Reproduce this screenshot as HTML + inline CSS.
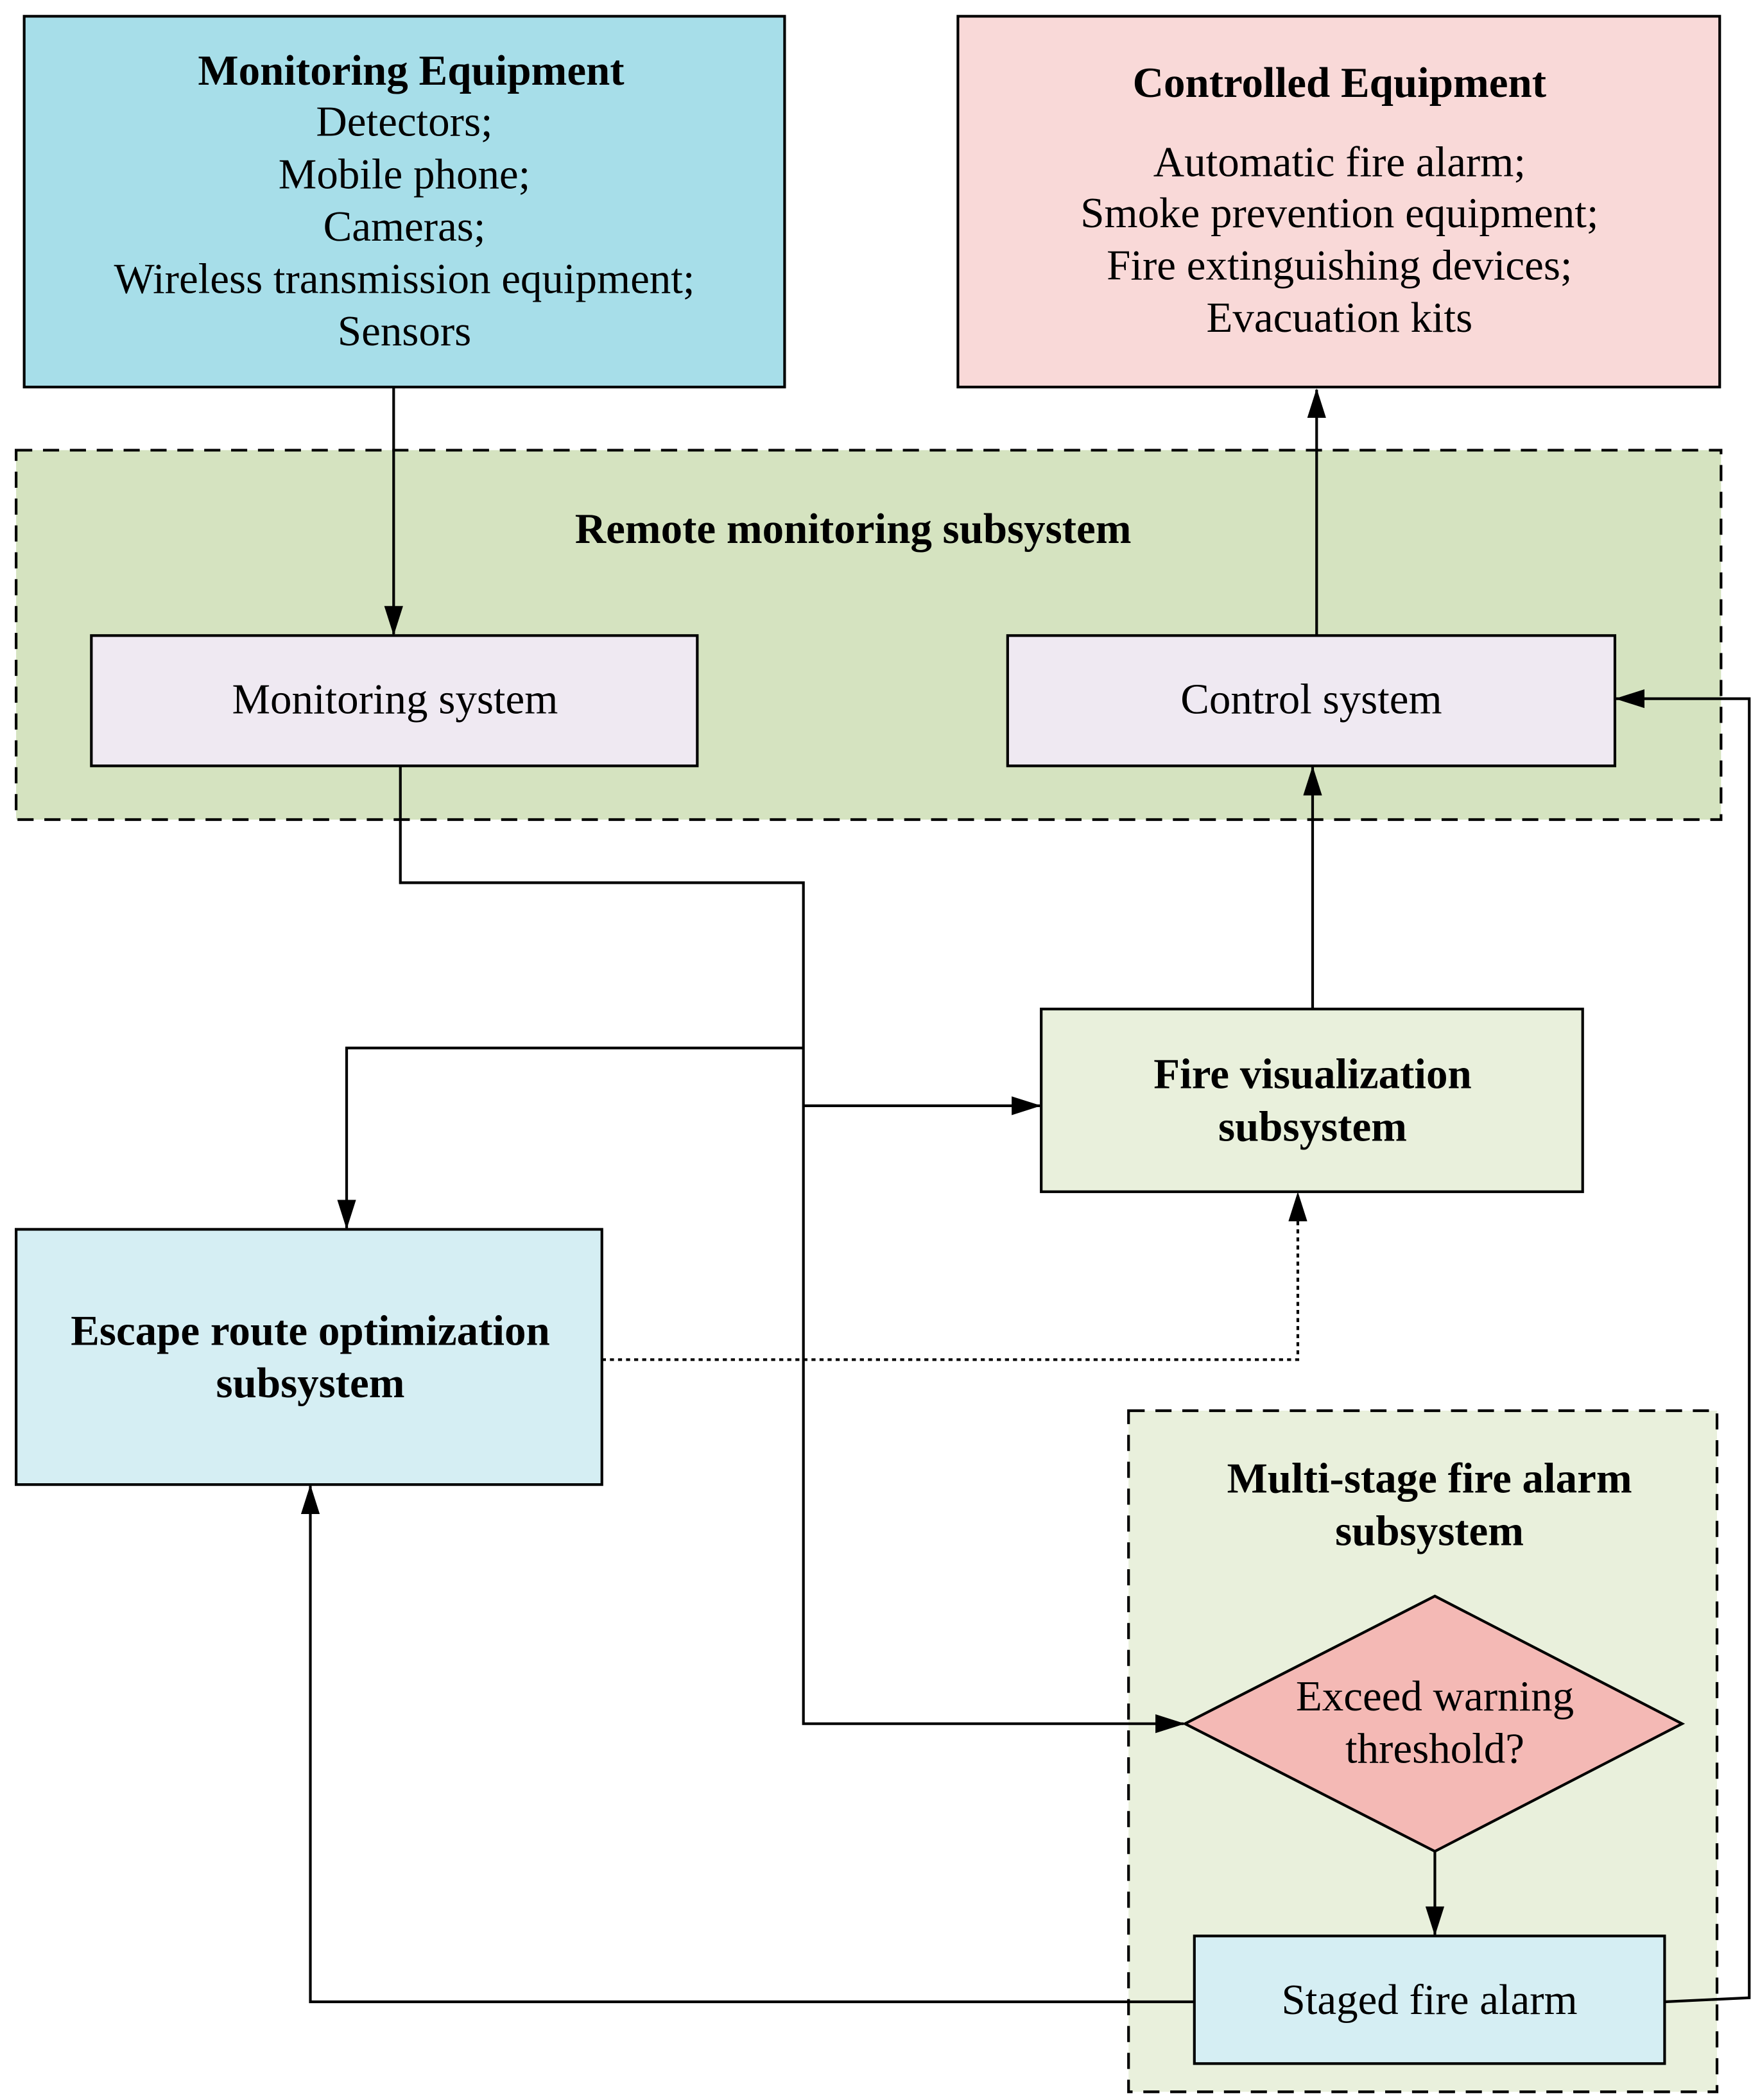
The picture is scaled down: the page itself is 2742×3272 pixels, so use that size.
<!DOCTYPE html>
<html><head><meta charset="utf-8"><style>
html,body{margin:0;padding:0;background:#fff}
svg{display:block}
text{font-family:"Liberation Serif",serif;font-size:32px;fill:#000;text-anchor:middle}
.b{font-weight:bold}
</style></head><body>
<svg width="2742" height="3272" viewBox="0 0 1310 1563" xmlns="http://www.w3.org/2000/svg">
<defs>
<marker id="a" markerWidth="22" markerHeight="14" refX="21" refY="7" orient="auto" markerUnits="userSpaceOnUse">
<path d="M0,0 L22,7 L0,14 Z" fill="#000"/></marker>
</defs>
<g stroke="#000" stroke-width="2">
<rect x="18" y="12" width="566" height="276" fill="#a7dee9"/>
<rect x="713" y="12" width="567" height="276" fill="#f9d9d8"/>
<rect x="12" y="335" width="1269" height="275" fill="#d5e3c0" stroke-dasharray="12,8"/>
<rect x="68" y="473" width="451" height="97" fill="#efe9f2"/>
<rect x="750" y="473" width="452" height="97" fill="#efe9f2"/>
<rect x="775" y="751" width="403" height="136" fill="#e9f0dc"/>
<rect x="12" y="915" width="436" height="190" fill="#d5eef3"/>
<rect x="840" y="1050" width="438" height="507" fill="#e9f0dc" stroke-dasharray="12,8"/>
<polygon points="882,1283 1068,1188 1252,1283 1068,1378" fill="#f4b9b5"/>
<rect x="889" y="1441" width="350" height="95" fill="#d5eef3"/>
<g fill="none">
<line x1="293" y1="288" x2="293" y2="472" marker-end="url(#a)"/>
<line x1="980" y1="473" x2="980" y2="290" marker-end="url(#a)"/>
<polyline points="298,570 298,657 598,657 598,1283 881,1283" marker-end="url(#a)"/>
<polyline points="598,780 258,780 258,914" marker-end="url(#a)"/>
<line x1="598" y1="823" x2="774" y2="823" marker-end="url(#a)"/>
<line x1="977" y1="751" x2="977" y2="571" marker-end="url(#a)"/>
<polyline points="448,1012 966,1012 966,888" stroke-dasharray="3,3" marker-end="url(#a)"/>
<line x1="1068" y1="1378" x2="1068" y2="1440" marker-end="url(#a)"/>
<polyline points="889,1490 231,1490 231,1106" marker-end="url(#a)"/>
<polyline points="1239,1490 1302,1487 1302,520 1203,520" marker-end="url(#a)"/>
</g>
</g>
<text x="306" y="63" class="b">Monitoring Equipment</text>
<text x="301" y="101">Detectors;</text>
<text x="301" y="140">Mobile phone;</text>
<text x="301" y="179">Cameras;</text>
<text x="301" y="218">Wireless transmission equipment;</text>
<text x="301" y="257">Sensors</text>
<text x="997" y="72" class="b">Controlled Equipment</text>
<text x="997" y="131">Automatic fire alarm;</text>
<text x="997" y="169">Smoke prevention equipment;</text>
<text x="997" y="208">Fire extinguishing devices;</text>
<text x="997" y="247">Evacuation kits</text>
<text x="635" y="404" class="b">Remote monitoring subsystem</text>
<text x="294" y="531">Monitoring  system</text>
<text x="976" y="531">Control  system</text>
<text x="977" y="810" class="b">Fire visualization</text>
<text x="977" y="849" class="b">subsystem</text>
<text x="231" y="1001" class="b">Escape route optimization</text>
<text x="231" y="1040" class="b">subsystem</text>
<text x="1064" y="1111" class="b">Multi-stage fire alarm</text>
<text x="1064" y="1150" class="b">subsystem</text>
<text x="1068" y="1273">Exceed warning</text>
<text x="1068" y="1312">threshold?</text>
<text x="1064" y="1499">Staged fire alarm</text>
</svg>
</body></html>
